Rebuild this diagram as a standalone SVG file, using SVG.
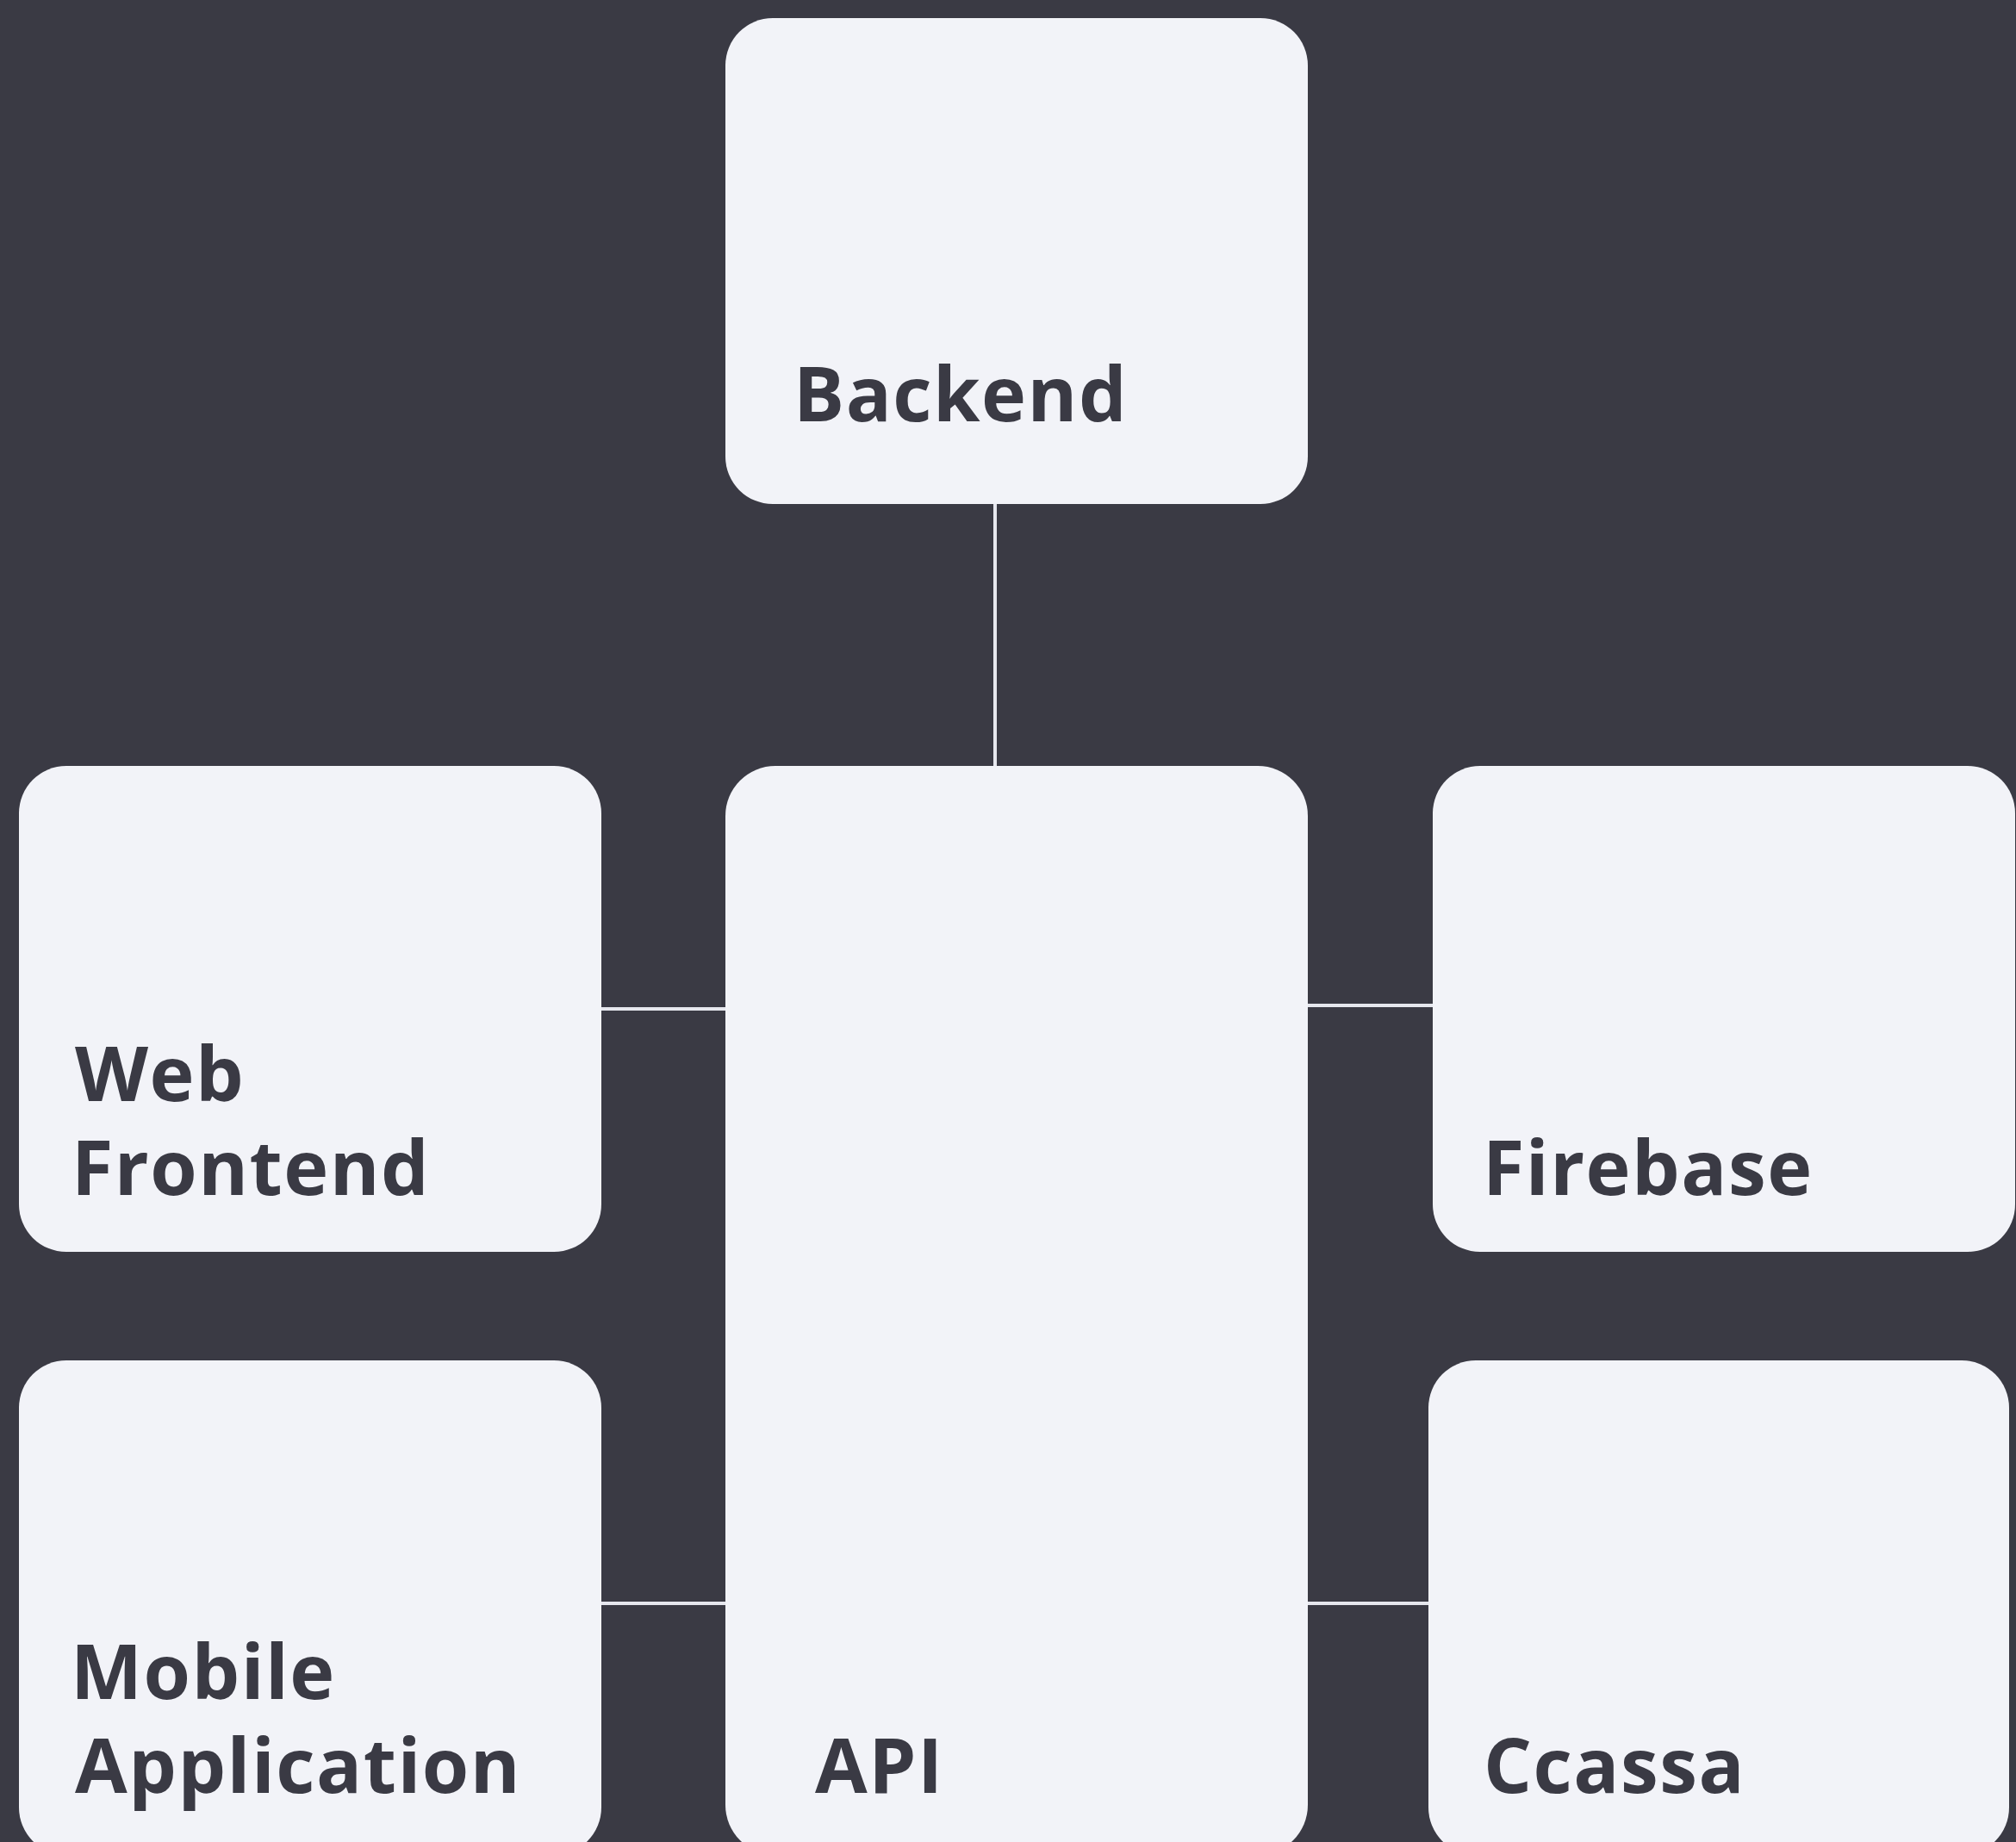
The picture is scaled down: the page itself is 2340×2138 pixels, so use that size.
<svg xmlns="http://www.w3.org/2000/svg" width="2340" height="2138" viewBox="0 0 2340 2138">
<style>
.bg{fill:#3a3a44}
.box{fill:#f2f3f8}
.lbl{font-family:"Open Sans","Liberation Sans",sans-serif;font-weight:700;font-size:88px;letter-spacing:1.5px;fill:#3a3a44}
.conn{stroke:#e6e7ee;stroke-width:4;fill:none}
</style>
<rect class="bg" x="0" y="0" width="2340" height="2138"/>
<g id="connectors">
<line class="conn" x1="1155" y1="585" x2="1155" y2="889"/>
<line class="conn" x1="698" y1="1171" x2="842" y2="1171"/>
<line class="conn" x1="1518" y1="1167" x2="1663" y2="1167"/>
<line class="conn" x1="698" y1="1861" x2="842" y2="1861"/>
<line class="conn" x1="1518" y1="1861" x2="1658" y2="1861"/>
</g>
<g id="backend">
<rect class="box" x="842" y="21" width="676" height="564" rx="55"/>
<text class="lbl" x="921" y="489">Backend</text>
</g>
<g id="web-frontend">
<rect class="box" x="22" y="889" width="676" height="564" rx="55"/>
<text class="lbl" x="87" y="1278">Web</text>
<text class="lbl" x="83" y="1387">Frontend</text>
</g>
<g id="api">
<rect class="box" x="842" y="889" width="676" height="1264" rx="58"/>
<text class="lbl" x="946" y="2081">API</text>
</g>
<g id="firebase">
<rect class="box" x="1663" y="889" width="676" height="564" rx="55"/>
<text class="lbl" x="1721" y="1387">Firebase</text>
</g>
<g id="mobile-application">
<rect class="box" x="22" y="1579" width="676" height="574" rx="55"/>
<text class="lbl" x="82" y="1972">Mobile</text>
<text class="lbl" x="87" y="2081">Application</text>
</g>
<g id="ccassa">
<rect class="box" x="1658" y="1579" width="674" height="574" rx="55"/>
<text class="lbl" x="1722" y="2081">Ccassa</text>
</g>
</svg>
